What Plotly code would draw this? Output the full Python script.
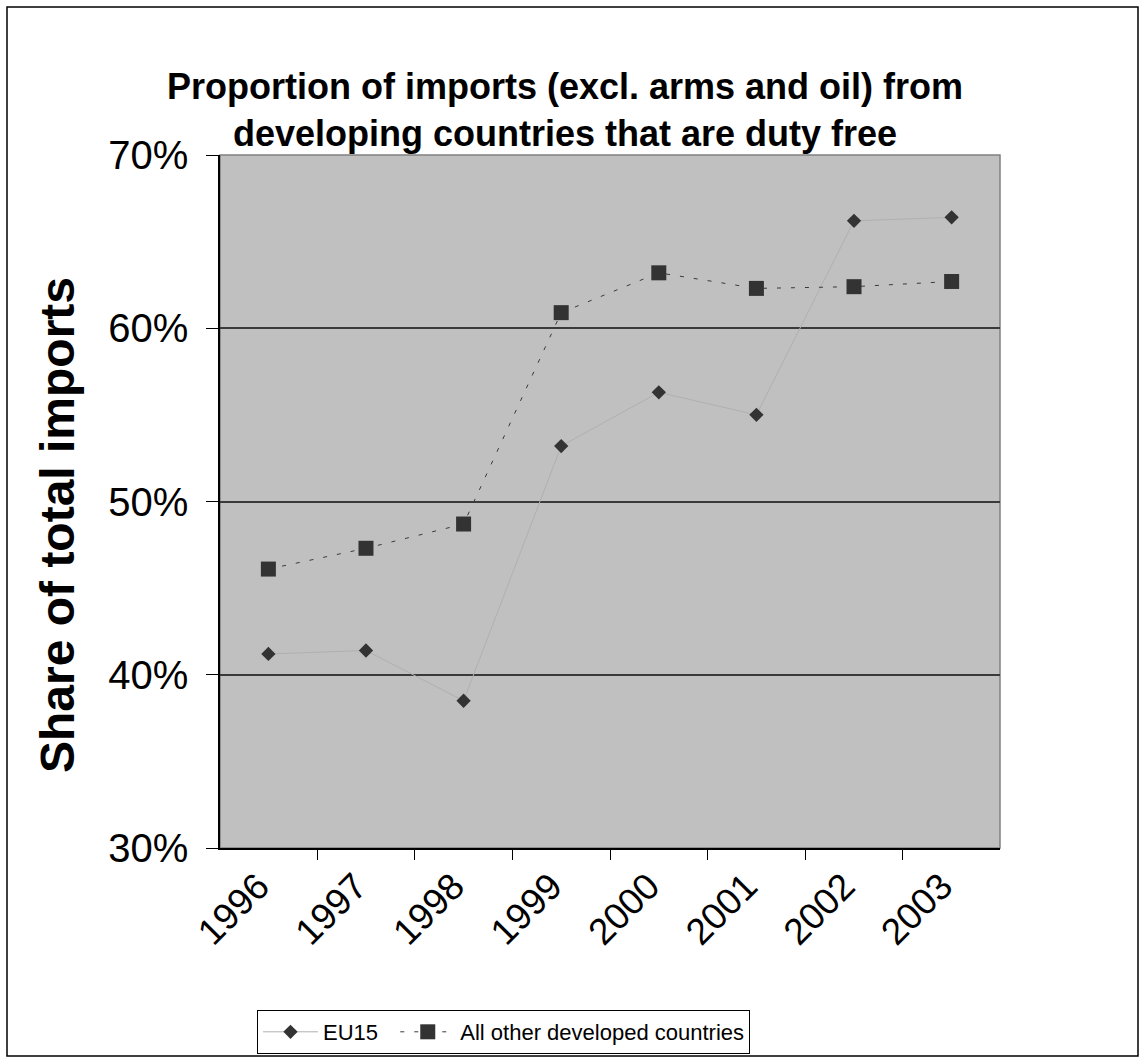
import plotly.graph_objects as go

years = ["1996", "1997", "1998", "1999", "2000", "2001", "2002", "2003"]
eu15 = [0.412, 0.414, 0.385, 0.532, 0.563, 0.550, 0.662, 0.664]
other_dev = [0.461, 0.473, 0.487, 0.609, 0.632, 0.623, 0.624, 0.627]

W, H = 1144, 1062
L, R, T, B = 220, 1144 - 1000, 155, 1062 - 848
pw, ph = W - L - R, H - T - B


def px(x):
    return (x - L) / pw


def py(y):
    return (H - B - y) / ph


fig = go.Figure()
fig.add_trace(go.Scatter(
    x=years, y=eu15, name="EU15\u00a0\u00a0", mode="lines+markers",
    line=dict(color="#b0b0b0", width=1),
    marker=dict(symbol="diamond", size=11, color="#333333"),
))
fig.add_trace(go.Scatter(
    x=years, y=other_dev, name="All other developed countries", mode="lines+markers",
    line=dict(color="#3a3a3a", width=1, dash="4px,10px"),
    marker=dict(symbol="square", size=15, color="#333333"),
))

font = "Liberation Sans, Arial, sans-serif"

fig.update_layout(
    width=W, height=H,
    margin=dict(l=L, r=R, t=T, b=B, autoexpand=False),
    paper_bgcolor="white",
    plot_bgcolor="#c0c0c0",
    font=dict(family=font, color="black"),
    showlegend=True,
    legend=dict(
        orientation="h", x=px(257), y=py(1010), xanchor="left", yanchor="top",
        bordercolor="black", borderwidth=1, bgcolor="white",
        font=dict(size=22), itemwidth=55,
    ),
    xaxis=dict(
        type="category", tickson="boundaries", ticks="outside", ticklen=10,
        tickcolor="black", showline=True, linecolor="black", linewidth=1.5,
        showgrid=False, tickangle=-45, tickfont=dict(size=37),
        ticklabelshift=-10, zeroline=False, automargin=False,
    ),
    yaxis=dict(
        range=[0.30, 0.70], dtick=0.1, tickformat=".0%", ticks="outside",
        ticklen=12, tickcolor="black", showline=True, linecolor="black",
        linewidth=1.5, gridcolor="#3a3a3a", gridwidth=1.5,
        tickfont=dict(size=40), ticklabelstandoff=10, zeroline=False,
        automargin=False,
    ),
    shapes=[
        # plot area frame (top / right in gray)
        dict(type="rect", xref="paper", yref="paper", x0=0, x1=1, y0=0, y1=1,
             line=dict(color="#808080", width=1.5), layer="below"),
        # outer chart border
        dict(type="rect", xref="paper", yref="paper",
             x0=px(7), x1=px(1138), y0=py(1056), y1=py(7),
             line=dict(color="black", width=1.5)),
    ],
    annotations=[
        dict(text="<b>Proportion of imports (excl. arms and oil) from<br>developing countries that are duty free</b>",
             xref="paper", yref="paper", x=px(565), y=py(110),
             xanchor="center", yanchor="middle", showarrow=False,
             font=dict(size=36)),
        dict(text="<b>Share of total imports</b>", textangle=-90,
             xref="paper", yref="paper", x=px(57), y=py(525),
             xanchor="center", yanchor="middle", showarrow=False,
             font=dict(size=48)),
    ],
)

fig.write_html("out.html", config=dict(displayModeBar=False),
               post_script="document.body.style.margin='0';")
